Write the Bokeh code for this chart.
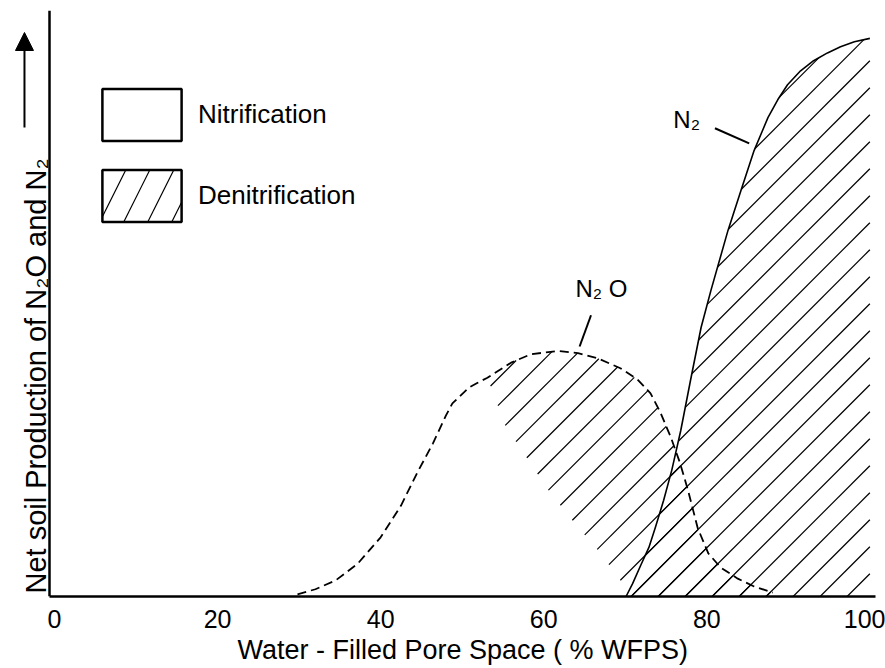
import numpy as np
from bokeh.plotting import figure
from bokeh.models import Legend, LegendItem, Label, Title, Arrow, NormalHead, FixedTicker
from bokeh.embed import file_html
from bokeh.resources import INLINE

# ---- data (x: water-filled pore space, %; y: relative net production) ----
wfps_n2o = [29.8, 32.0, 34.5, 37.2, 40.0, 42.5, 44.5, 46.4, 48.0, 48.8, 49.8, 50.8, 51.9,
            53.1, 56.0, 58.4, 61.7, 64.2, 66.6, 69.4, 71.5, 73.1, 74.3, 75.6, 76.7, 77.7,
            78.9, 80.2, 81.7, 83.8, 85.8, 88.1]
n2o = [0.4, 1.3, 2.9, 5.9, 10.6, 16.3, 22.2, 27.4, 32.4, 34.6, 36.0, 37.4, 38.3,
       39.2, 41.9, 43.4, 44.0, 43.6, 42.7, 40.9, 38.9, 36.4, 33.0, 28.5, 24.0, 19.0,
       12.2, 7.7, 5.2, 3.2, 1.8, 0.7]
wfps_n2 = [70.1, 70.9, 71.9, 72.9, 73.7, 74.7, 75.7, 76.8, 78.0, 79.3, 80.5, 82.6,
           84.2, 85.8, 87.5, 88.7, 89.9, 91.5, 93.1, 94.8, 96.4, 98.1, 100.0]
n2 = [0.0, 2.3, 5.6, 8.8, 12.4, 17.2, 22.6, 29.7, 38.7, 48.2, 54.8, 65.6,
      72.8, 79.9, 85.8, 89.0, 91.7, 94.2, 96.0, 97.4, 98.5, 99.4, 100.0]
# boundary between the nitrification (left) and denitrification (right) parts under N2O
wfps_split = [53.1, 55.3, 58.0, 60.6, 63.7, 67.0, 69.7, 70.1]
split = [39.2, 30.6, 24.7, 19.0, 13.3, 7.7, 2.3, 0.0]
x_ticks = [0, 20, 40, 60, 80, 100]
legend_labels = ["Nitrification", "Denitrification"]
x_title = "Water - Filled Pore Space ( % WFPS)"
y_title = "Net soil Production of N\u2082O and N\u2082"

FONT = "Liberation Sans"
INK = "black"
X_RANGE = (-6.13, 100.69)
Y_RANGE = (0, 105)
FRAME_W, FRAME_H = 871, 586
AXIS_X = -0.61   # where the vertical axis sits (just left of 0 %)

p = figure(width=885, height=668, x_range=X_RANGE, y_range=Y_RANGE,
           output_backend="svg", toolbar_location=None,
           min_border_left=4, min_border_right=10, min_border_top=10, min_border_bottom=72)
p.grid.visible = False
p.outline_line_color = None

# ---- 45-degree hatching of the denitrification areas (27 px apart on screen) ----
px_per_x = FRAME_W / (X_RANGE[1] - X_RANGE[0])
px_per_y = FRAME_H / (Y_RANGE[1] - Y_RANGE[0])
SLOPE = px_per_x / px_per_y
STEP = 27 / px_per_y
B0 = 96.0 - SLOPE * 100.0


def hatch_segments(poly_x, poly_y):
    out = ([], [], [], [])
    n = len(poly_x)
    for k in range(-80, 80):
        b = B0 + k * STEP
        hits = []
        for i in range(n):
            x1, y1 = poly_x[i], poly_y[i]
            x2, y2 = poly_x[(i + 1) % n], poly_y[(i + 1) % n]
            f1 = y1 - SLOPE * x1 - b
            f2 = y2 - SLOPE * x2 - b
            if (f1 > 0) != (f2 > 0):
                t = f1 / (f1 - f2)
                hits.append(x1 + t * (x2 - x1))
        hits.sort()
        for j in range(0, len(hits) - 1, 2):
            xa, xb = hits[j], hits[j + 1]
            out[0].append(xa); out[1].append(SLOPE * xa + b)
            out[2].append(xb); out[3].append(SLOPE * xb + b)
    return out


top_sel = [(x, y) for x, y in zip(wfps_n2o, n2o) if x > wfps_split[0]]
den_x = wfps_split[::-1] + [x for x, _ in top_sel] + [wfps_n2o[-1]]
den_y = split[::-1] + [y for _, y in top_sel] + [0]
for poly in ((den_x, den_y), (wfps_n2 + [wfps_n2[-1]], n2 + [0])):
    x0, y0, x1, y1 = hatch_segments(*poly)
    p.segment(x0=x0, y0=y0, x1=x1, y1=y1, line_color=INK, line_width=1.2)

p.line(wfps_n2o, n2o, line_color=INK, line_width=1.8, line_dash="9 5", line_join="round")
p.line(wfps_n2, n2, line_color=INK, line_width=1.6, line_join="round")

# curve labels with leader lines
p.segment(x0=[65.8, 81.0], y0=[50.4, 83.9], x1=[64.4, 85.2], y1=[44.8, 81.2],
          line_color=INK, line_width=2)
p.add_layout(Label(x=63.9, y=55.2, text="N\u2082 O", text_font=FONT, text_font_size="24px",
                   text_color=INK, text_baseline="alphabetic"))
p.add_layout(Label(x=75.9, y=85.5, text="N\u2082", text_font=FONT, text_font_size="24px",
                   text_color=INK, text_baseline="alphabetic"))

# legend swatches (renderers with no visible data)
nan1 = np.array([np.nan])
r_nit = p.quad(left=nan1, right=nan1, top=nan1, bottom=nan1, fill_color="white",
               line_color=INK, line_width=2.5)
r_den = p.quad(left=nan1, right=nan1, top=nan1, bottom=nan1, fill_color="white",
               line_color=INK, line_width=2.5, hatch_pattern="/", hatch_color=INK,
               hatch_weight=1.2, hatch_scale=48)
legend = Legend(items=[LegendItem(label=legend_labels[0], renderers=[r_nit]),
                       LegendItem(label=legend_labels[1], renderers=[r_den])],
                location=(88, 368), glyph_width=99, glyph_height=65, spacing=16,
                label_standoff=7, padding=0, margin=0, border_line_color=None,
                background_fill_alpha=0, label_text_font=FONT,
                label_text_font_size="26px", label_text_color=INK)
p.add_layout(legend)

# axes
xa = p.xaxis[0]
xa.ticker = FixedTicker(ticks=x_ticks)
xa.bounds = (AXIS_X, X_RANGE[1])
xa.axis_line_width = 2.5
xa.major_tick_line_color = None
xa.minor_tick_line_color = None
xa.major_label_text_font = FONT
xa.major_label_text_font_size = "25px"
xa.major_label_text_color = INK
xa.major_label_standoff = 7

ya = p.yaxis[0]
ya.fixed_location = AXIS_X
ya.ticker = FixedTicker(ticks=[])
ya.axis_line_width = 2.5
ya.major_tick_line_color = None
ya.minor_tick_line_color = None

p.add_layout(Title(text=x_title, align="left", offset=233, standoff=5, text_font=FONT,
                   text_font_size="27px", text_font_style="normal", text_color=INK),
             "below")

# y title and the upward arrow beside it
p.add_layout(Label(x=-2.21, y=0.54, text=y_title, angle=90, angle_units="deg",
                   text_align="left", text_baseline="alphabetic", text_font=FONT,
                   text_font_size="29px", text_color=INK))
p.add_layout(Arrow(end=NormalHead(size=18, fill_color=INK, line_color=INK),
                   x_start=-3.68, y_start=84.03, x_end=-3.68, y_end=101.06,
                   line_color=INK, line_width=2))

open("out.html", "w").write(file_html(p, INLINE))
